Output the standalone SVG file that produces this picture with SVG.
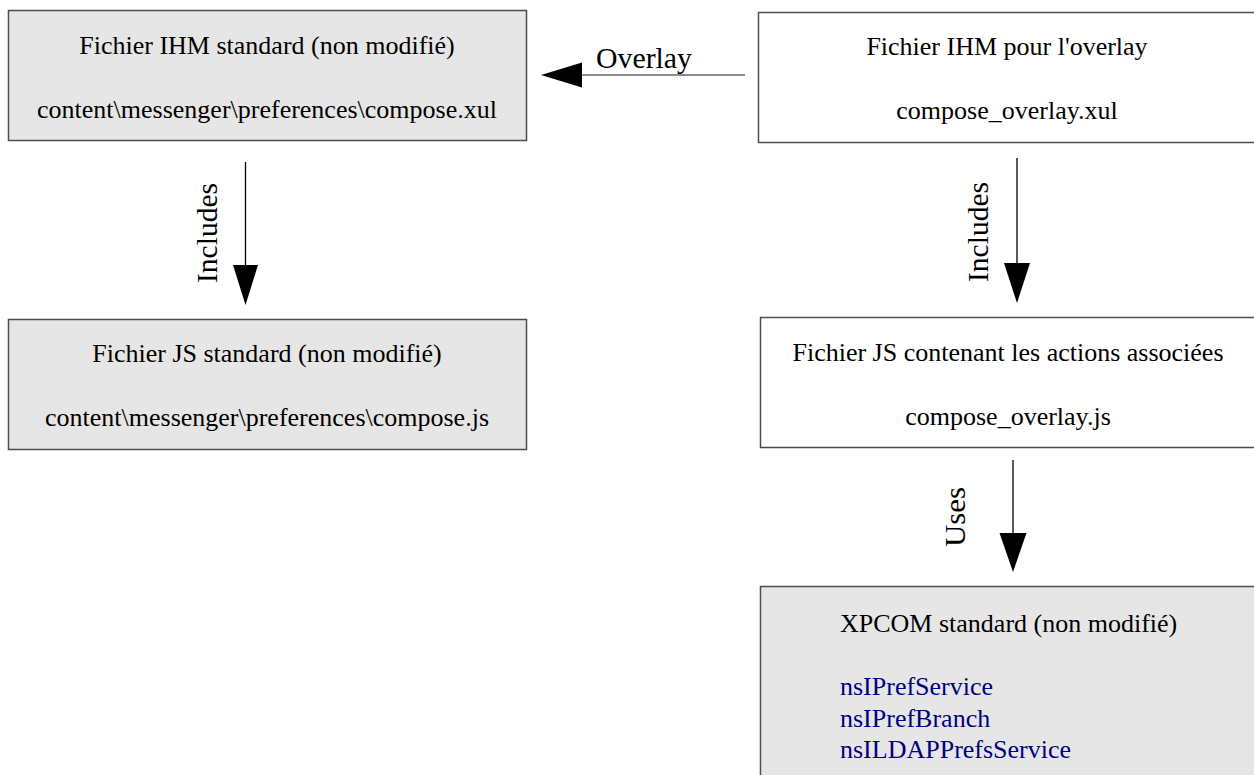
<svg xmlns="http://www.w3.org/2000/svg" width="1254" height="775" viewBox="0 0 1254 775">
<style>
.box{stroke:#4d4d4d;stroke-width:1.5}
.gray{fill:#e6e6e6}
.white{fill:#ffffff}
.t{font-family:"Liberation Serif","Times New Roman",serif;font-size:26px;fill:#000}
.c{text-anchor:middle}
.blue{fill:#000080}
.lbl{font-family:"Liberation Serif","Times New Roman",serif;font-size:30px;fill:#000}
.ln{stroke:#000;stroke-width:1.3;fill:none}
.ln2{stroke:#666;stroke-width:1.5;fill:none}
.head{fill:#000}
</style>
<rect width="1254" height="775" fill="#fff"/>
<g id="node-ihm-standard">
<rect class="box gray" x="8.5" y="10.5" width="518" height="130"/>
<text class="t c" x="267" y="54">Fichier IHM standard (non modifié)</text>
<text class="t c" x="267" y="118">content\messenger\preferences\compose.xul</text>
</g>
<g id="node-ihm-overlay">
<rect class="box white" x="758.5" y="12.5" width="500" height="130"/>
<text class="t c" x="1007" y="55">Fichier IHM pour l'overlay</text>
<text class="t c" x="1007" y="119">compose_overlay.xul</text>
</g>
<g id="node-js-standard">
<rect class="box gray" x="8.5" y="319.5" width="518" height="130"/>
<text class="t c" x="267" y="362">Fichier JS standard (non modifié)</text>
<text class="t c" x="267" y="426">content\messenger\preferences\compose.js</text>
</g>
<g id="node-js-overlay">
<rect class="box white" x="760.5" y="317.5" width="500" height="130"/>
<text class="t c" x="1008" y="361">Fichier JS contenant les actions associées</text>
<text class="t c" x="1008" y="425">compose_overlay.js</text>
</g>
<g id="node-xpcom">
<rect class="box gray" x="760.5" y="586.5" width="500" height="200"/>
<text class="t" x="840" y="632">XPCOM standard (non modifié)</text>
<text class="t blue" x="840" y="695">nsIPrefService</text>
<text class="t blue" x="840" y="727">nsIPrefBranch</text>
<text class="t blue" x="840" y="758">nsILDAPPrefsService</text>
</g>
<g id="connectors">
<line class="ln2" x1="745" y1="75" x2="580" y2="75"/>
<polygon class="head" points="541,75 582,62.5 582,87.5"/>
<text class="lbl" x="596" y="68" textLength="96" lengthAdjust="spacingAndGlyphs">Overlay</text>
<line class="ln" x1="245.5" y1="162" x2="245.5" y2="267"/>
<polygon class="head" points="245.5,305 233,265 258,265"/>
<text class="lbl" transform="translate(217,233) rotate(-90)" text-anchor="middle" textLength="100" lengthAdjust="spacingAndGlyphs">Includes</text>
<line class="ln" x1="1017" y1="158" x2="1017" y2="265"/>
<polygon class="head" points="1017,303 1004,263 1030,263"/>
<text class="lbl" transform="translate(988,232) rotate(-90)" text-anchor="middle" textLength="100" lengthAdjust="spacingAndGlyphs">Includes</text>
<line class="ln" x1="1013" y1="460" x2="1013" y2="535"/>
<polygon class="head" points="1013,572 999.5,533 1026.5,533"/>
<text class="lbl" transform="translate(965,517) rotate(-90)" text-anchor="middle" textLength="60" lengthAdjust="spacingAndGlyphs">Uses</text>
</g>
</svg>
